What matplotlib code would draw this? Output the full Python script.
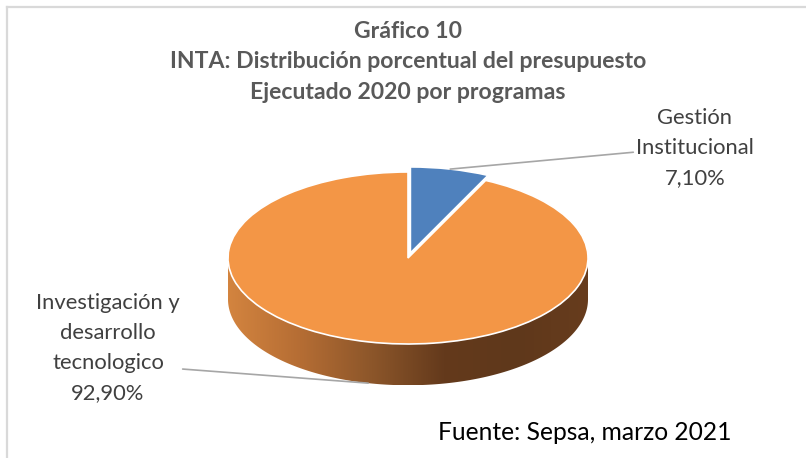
"""
INTA: distribución porcentual del presupuesto ejecutado 2020 (pie 3D estilo Excel)
"""

import numpy as np
import matplotlib
matplotlib.use("Agg")
import matplotlib.pyplot as plt
from matplotlib.colors import LinearSegmentedColormap
from matplotlib.patches import Polygon
from matplotlib.lines import Line2D

# ---------------------------
# Datos
# ---------------------------
categorias = ["Gestión\nInstitucional", "Investigación y\ndesarrollo\ntecnologico"]
porcentajes = [7.10, 92.90]
etiquetas_pct = ["7,10%", "92,90%"]
colores = ["#4f81bd", "#f39646"]

titulo = "Gráfico 10\nINTA: Distribución porcentual del presupuesto\nEjecutado 2020 por programas"
fuente = "Fuente: Sepsa, marzo 2021"

# ---------------------------
# Geometría (pixeles de la figura)
# ---------------------------
W, H = 806, 458
CX, CY = 408, 258          # centro de la elipse (desde arriba)
RX, RY = 180, 86           # semiejes
PROF = 0.48                # profundidad del lateral (en unidades de RY)

plt.rcParams["font.family"] = ["Lato", "DejaVu Sans"]

fig = plt.figure(figsize=(W / 100, H / 100), dpi=100)
ax = fig.add_axes([0, 0, 1, 1])

# ---------- lateral con degradado ----------
t = np.linspace(np.pi, 2 * np.pi, 200)
top = np.column_stack([np.cos(t), np.sin(t)])
bot = np.column_stack([np.cos(t[::-1]), np.sin(t[::-1]) - PROF])
banda = Polygon(np.vstack([top, bot]), closed=True, facecolor="none", edgecolor="none")
ax.add_patch(banda)
cmap = LinearSegmentedColormap.from_list(
    "lateral", ["#d3843f", "#b56d34", "#8c562a", "#643a1c", "#5f381b", "#673c1d"])
grad = np.linspace(0, 1, 256)[None, :]
img = ax.imshow(grad, cmap=cmap, extent=[-1, 1, -1 - PROF, 0], aspect="auto",
                origin="lower", zorder=1, interpolation="bilinear")
img.set_clip_path(banda)

# ---------- cara superior ----------
explode = [0.06, 0.0]
wedges, _ = ax.pie(porcentajes, colors=colores, startangle=90, counterclock=False,
                   explode=explode, radius=1, center=(0, 0),
                   wedgeprops=dict(edgecolor="white", linewidth=1.2))
for w in wedges:
    w.set_zorder(2)

ax.set_aspect("auto")
ax.set_xlim(-CX / RX, (W - CX) / RX)
ax.set_ylim(-(H - CY) / RY, CY / RY)
ax.axis("off")

# ---------- etiquetas con líneas guía ----------
ang = []
acc = 90.0
for p in porcentajes:
    sweep = 360 * p / sum(porcentajes)
    ang.append(np.deg2rad(acc - sweep / 2))
    acc -= sweep

col_txt = "#404040"
fs_lab = 15.8
ls_lab = 1.62

# Gestión Institucional (cuña azul, borde superior)
a0 = ang[0]
e0 = explode[0]
p0 = (np.cos(a0) * (1 + e0), np.sin(a0) * (1 + e0))
ax.annotate(categorias[0] + "\n" + etiquetas_pct[0], xy=p0,
            xytext=((695 - CX) / RX, (CY - 148) / RY),
            ha="center", va="center", fontsize=fs_lab, color=col_txt,
            linespacing=ls_lab,
            arrowprops=dict(arrowstyle="-", color="#a6a6a6", lw=1.2,
                            shrinkA=0, shrinkB=0,
                            relpos=(0.0, 0.45)))

# Investigación y desarrollo (borde inferior del lateral)
a1 = ang[1]
p1 = (np.cos(a1), np.sin(a1) - PROF)
ax.annotate(categorias[1] + "\n" + etiquetas_pct[1], xy=p1,
            xytext=((108 - CX) / RX, (CY - 348) / RY),
            ha="center", va="center", fontsize=fs_lab, color=col_txt,
            linespacing=ls_lab,
            arrowprops=dict(arrowstyle="-", color="#a6a6a6", lw=1.2,
                            shrinkA=0, shrinkB=0,
                            relpos=(0.8, 0.33)))

# ---------- títulos ----------
fig.text(0.506, 1 - 62 / H, titulo, ha="center", va="center", fontsize=16.6,
         fontweight="bold", color="#595959", linespacing=1.58)
fig.text(585 / W, 1 - 433 / H, fuente, ha="center", va="center", fontsize=17.7,
         color="black")

# ---------- borde del área ----------
fig.add_artist(Line2D([7 / W, 1], [1 - 7 / H] * 2, color="#d9d9d9", lw=1.6))
fig.add_artist(Line2D([7 / W] * 2, [0, 1 - 7 / H], color="#d9d9d9", lw=1.6))

fig.savefig("out.png", dpi=100)
